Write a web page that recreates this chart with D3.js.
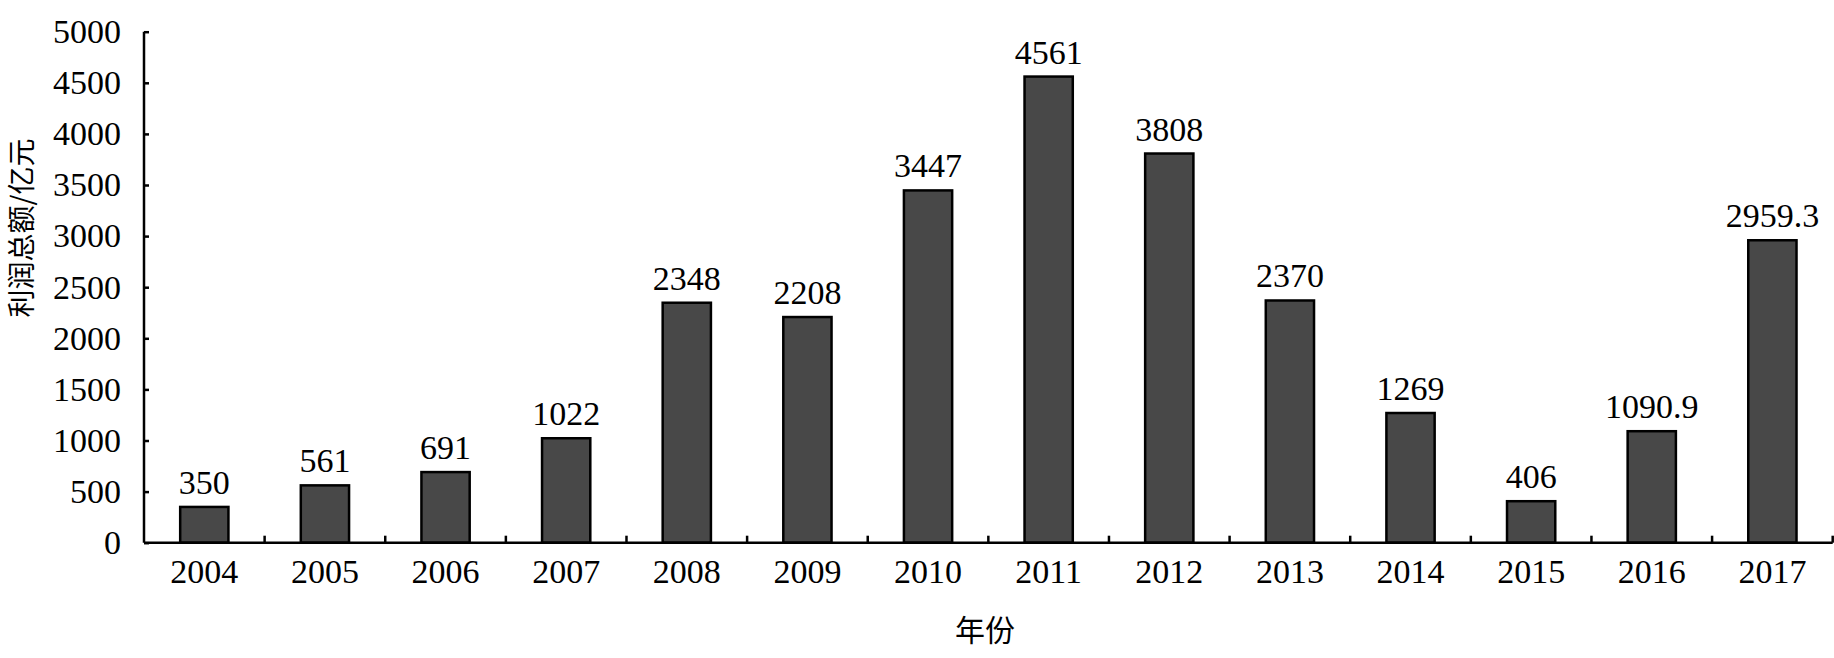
<!DOCTYPE html>
<html>
<head>
<meta charset="utf-8">
<script src="https://cdn.jsdelivr.net/npm/d3@7/dist/d3.min.js"></script>
<style>
  html, body { margin: 0; padding: 0; background: #fff; }
  svg { display: block; }
  .serif { font-family: "Liberation Serif", "Times New Roman", Times, "DejaVu Serif", serif; }
  .cjk { font-family: "Noto Sans CJK SC", "Noto Sans CJK JP", sans-serif; }
</style>
</head>
<body>
<svg id="chart" width="1834" height="658"></svg>
<script>
const years = ["2004","2005","2006","2007","2008","2009","2010","2011","2012","2013","2014","2015","2016","2017"];
const profits = [350, 561, 691, 1022, 2348, 2208, 3447, 4561, 3808, 2370, 1269, 406, 1090.9, 2959.3];
const valueLabels = ["350","561","691","1022","2348","2208","3447","4561","3808","2370","1269","406","1090.9","2959.3"];
const yTicks = [0, 500, 1000, 1500, 2000, 2500, 3000, 3500, 4000, 4500, 5000];
const xTitle = "年份";
const yTitle = "利润总额/亿元";

(function () {
const svg = d3.select("#chart");
const pLeft = 144, pRight = 1832.7, pTop = 31.7, pBottom = 542.7;

const x = d3.scaleBand().domain(years).range([pLeft, pRight]).paddingInner(0.6).paddingOuter(0.3);
const y = d3.scaleLinear().domain([0, 5000]).range([pBottom, pTop]);
const step = x.step();

// bars
svg.append("g").selectAll("rect").data(years).join("rect")
  .attr("x", d => x(d))
  .attr("y", (d, i) => y(profits[i]))
  .attr("width", x.bandwidth())
  .attr("height", (d, i) => y(0) - y(profits[i]))
  .attr("fill", "#484848")
  .attr("stroke", "#000")
  .attr("stroke-width", 2.5);

// value labels
svg.append("g").selectAll("text").data(years).join("text")
  .attr("class", "serif")
  .attr("x", d => x(d) + x.bandwidth() / 2)
  .attr("y", (d, i) => y(profits[i]) - 13)
  .attr("text-anchor", "middle")
  .style("font-size", "34px")
  .attr("fill", "#000")
  .text((d, i) => valueLabels[i]);

// y axis
const yAxis = d3.axisLeft(y).tickValues(yTicks).tickSize(-5).tickPadding(23).tickFormat(d3.format("d"));
const gy = svg.append("g").attr("transform", `translate(${pLeft},0)`).call(yAxis)
  .attr("font-family", null).attr("font-size", null);
gy.select(".domain").attr("stroke", "#000").attr("stroke-width", 2.5).attr("d", `M0,${pBottom}V${pTop}`);
gy.selectAll(".tick line").attr("stroke", "#000").attr("stroke-width", 2.5);
gy.selectAll(".tick text").attr("class", "serif").style("font-size", "34px").attr("fill", "#000").attr("dy", "0.32em");

// x axis
const gx = svg.append("g").attr("transform", `translate(0,${pBottom})`);
gx.append("line").attr("x1", pLeft).attr("x2", pRight).attr("y1", 0).attr("y2", 0)
  .attr("stroke", "#000").attr("stroke-width", 2.5);
gx.selectAll("line.sep").data(years).join("line").attr("class", "sep")
  .attr("x1", d => x(d) - x.paddingOuter() * step + step)
  .attr("x2", d => x(d) - x.paddingOuter() * step + step)
  .attr("y1", 0).attr("y2", -7)
  .attr("stroke", "#000").attr("stroke-width", 2.5);
gx.selectAll("text.lbl").data(years).join("text").attr("class", "lbl serif")
  .attr("x", d => x(d) + x.bandwidth() / 2)
  .attr("y", 40.5)
  .attr("text-anchor", "middle")
  .style("font-size", "34px")
  .attr("fill", "#000")
  .text(d => d);

// titles
svg.append("text").attr("class", "cjk").attr("x", 985).attr("y", 641)
  .attr("text-anchor", "middle").style("font-size", "30px")
  .attr("fill", "#000").text(xTitle);
svg.append("text").attr("class", "cjk").attr("transform", "translate(20,228) rotate(-90)")
  .attr("text-anchor", "middle").attr("dominant-baseline", "central").style("font-size", "28px")
  .attr("fill", "#000").text(yTitle);
})();
</script>
</body>
</html>
